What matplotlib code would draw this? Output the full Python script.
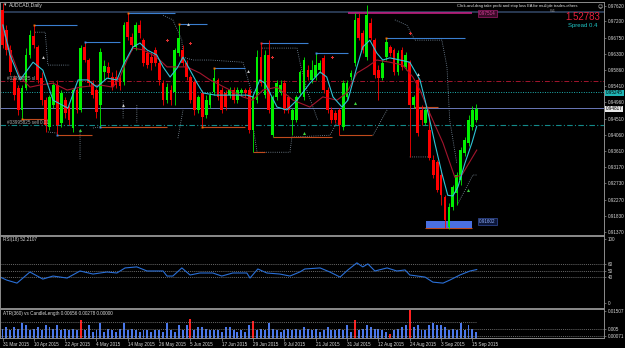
"""AUDCAD daily chart, MetaTrader style: candles + MAs, RSI(18), ATR vs candle length."""

import matplotlib
matplotlib.use("Agg")
import matplotlib.pyplot as plt  # noqa: E402
import numpy as np  # noqa: E402
from matplotlib.patches import Rectangle  # noqa: E402

plt.rcParams["font.family"] = ["Liberation Sans", "DejaVu Sans"]

W, H = 625, 348

# ---- candles (one per trading day, 31 Mar 2015 .. 16 Sep 2015) ----
OPEN = [.9751, .9696, .9640, .9563, .9535, .9474, .9535, .9626, .9679, .9649,
        .9563, .9502, .9427, .9488, .9544, .9438, .9502, .9483, .9424, .9530,
        .9474, .9649, .9613, .9549, .9530, .9488, .9580, .9593, .9566, .9566,
        .9563, .9552, .9718, .9676, .9649, .9709, .9668, .9632, .9621, .9640,
        .9604, .9549, .9502, .9530, .9524, .9632, .9640, .9604, .9566, .9552,
        .9474, .9521, .9460, .9488, .9524, .9557, .9530, .9521, .9516, .9530,
        .9502, .9521, .9530, .9530, .9419, .9502, .9621, .9516, .9626, .9405,
        .9510, .9524, .9549, .9510, .9447, .9447, .9521, .9510, .9585, .9557,
        .9566, .9585, .9618, .9530, .9474, .9466, .9474, .9427, .9510, .9566,
        .9604, .9729, .9687, .9621, .9715, .9668, .9585, .9563, .9621, .9649,
        .9640, .9580, .9640, .9593, .9607, .9488, .9557, .9474, .9438, .9419,
        .9336, .9331, .9295, .9234, .9151, .9206, .9245, .9281, .9356, .9383,
        .9427, .9447]
CLOSE = [.9654, .9640, .9580, .9516, .9474, .9535, .9626, .9682, .9654, .9557,
         .9502, .9433, .9510, .9544, .9433, .9521, .9466, .9447, .9530, .9474,
         .9646, .9613, .9549, .9516, .9469, .9635, .9596, .9577, .9538, .9544,
         .9541, .9709, .9676, .9654, .9709, .9687, .9604, .9599, .9604, .9604,
         .9557, .9502, .9538, .9502, .9640, .9674, .9604, .9566, .9502, .9474,
         .9510, .9455, .9502, .9516, .9563, .9510, .9474, .9483, .9530, .9502,
         .9530, .9530, .9521, .9419, .9510, .9621, .9549, .9626, .9474, .9510,
         .9549, .9544, .9474, .9474, .9474, .9510, .9580, .9613, .9566, .9585,
         .9599, .9604, .9530, .9474, .9447, .9447, .9433, .9549, .9549, .9577,
         .9723, .9674, .9640, .9737, .9674, .9571, .9563, .9604, .9662, .9632,
         .9580, .9632, .9593, .9626, .9488, .9510, .9411, .9447, .9474, .9342,
         .9295, .9253, .9239, .9170, .9206, .9261, .9295, .9364, .9391, .9447,
         .9474, .9477]
HIGH = [.9770, .9709, .9654, .9571, .9544, .9544, .9646, .9696, .9709, .9654,
        .9580, .9510, .9516, .9552, .9557, .9530, .9510, .9488, .9535, .9535,
        .9654, .9662, .9618, .9557, .9535, .9646, .9613, .9607, .9580, .9585,
        .9571, .9718, .9743, .9687, .9718, .9723, .9674, .9640, .9635, .9649,
        .9613, .9557, .9549, .9544, .9646, .9712, .9654, .9613, .9571, .9557,
        .9516, .9530, .9516, .9524, .9591, .9563, .9538, .9530, .9538, .9538,
        .9538, .9535, .9535, .9538, .9516, .9640, .9660, .9640, .9668, .9516,
        .9557, .9557, .9557, .9516, .9480, .9516, .9585, .9621, .9599, .9613,
        .9632, .9613, .9626, .9538, .9483, .9474, .9480, .9557, .9557, .9585,
        .9743, .9743, .9696, .9765, .9729, .9674, .9599, .9613, .9674, .9654,
        .9646, .9640, .9649, .9635, .9613, .9516, .9566, .9488, .9480, .9474,
        .9350, .9336, .9308, .9239, .9217, .9267, .9303, .9372, .9400, .9460,
        .9485, .9491]
LOW = [.9646, .9626, .9571, .9502, .9460, .9450, .9530, .9618, .9646, .9549,
       .9488, .9414, .9419, .9480, .9405, .9427, .9452, .9433, .9414, .9466,
       .9469, .9607, .9541, .9508, .9452, .9427, .9557, .9563, .9530, .9535,
       .9530, .9544, .9668, .9640, .9640, .9674, .9596, .9591, .9585, .9596,
       .9544, .9488, .9494, .9488, .9488, .9624, .9596, .9557, .9494, .9460,
       .9466, .9427, .9452, .9480, .9516, .9502, .9466, .9474, .9508, .9494,
       .9494, .9513, .9510, .9411, .9358, .9494, .9541, .9508, .9466, .9400,
       .9502, .9516, .9466, .9466, .9405, .9441, .9513, .9502, .9557, .9549,
       .9557, .9577, .9521, .9466, .9438, .9438, .9405, .9419, .9502, .9557,
       .9596, .9668, .9632, .9613, .9668, .9563, .9502, .9557, .9613, .9624,
       .9571, .9571, .9585, .9585, .9344, .9480, .9403, .9433, .9433, .9336,
       .9286, .9248, .9212, .9148, .9145, .9198, .9212, .9267, .9347, .9375,
       .9419, .9441]

# ---- moving averages (bar position, price) ----
FAST_X = [0.1, 1.9, 4.5, 7.8, 10.3, 12.9, 16.7, 19.3, 21.8, 24.1, 26.7, 29.2, 30.8,
          33.3, 35.1, 36.9, 39.4, 41.0, 42.8, 44.6, 46.1, 47.9, 49.7, 51.2, 54.3,
          58.1, 62.4, 63.9, 65.7, 67.0, 68.8, 70.1, 72.6, 75.2, 78.5, 81.1, 82.8,
          84.4, 86.7, 88.2, 90.5, 92.0, 93.8, 95.6, 97.1, 98.9, 101.5, 104.0,
          106.6, 107.9, 109.1, 110.4, 112.2, 113.7, 115.0, 116.3, 118.1, 119.9, 121.1]
FAST_Y = [.9710, .9627, .9558, .9607, .9585, .9502, .9480, .9558, .9558, .9538,
          .9563, .9558, .9599, .9649, .9660, .9641, .9627, .9594, .9566, .9591,
          .9621, .9585, .9549, .9522, .9516, .9516, .9516, .9511, .9558, .9549,
          .9511, .9483, .9475, .9502, .9549, .9580, .9566, .9511, .9483, .9502,
          .9594, .9649, .9668, .9632, .9613, .9619, .9613, .9607, .9558, .9502,
          .9447, .9383, .9300, .9239, .9237, .9262, .9328, .9385, .9430]
SLOW_X = [0.1, 1.9, 4.5, 7.0, 9.6, 12.9, 16.5, 19.8, 24.9, 28.2, 30.0, 31.8, 33.3,
          35.9, 38.4, 40.2, 42.0, 45.3, 47.1, 50.4, 53.0, 58.1, 61.4, 63.9, 66.5,
          70.1, 74.2, 78.5, 81.8, 85.4, 87.9, 90.5, 93.1, 95.6, 98.9, 102.2,
          104.8, 106.6, 109.1, 112.5, 115.5, 117.3, 121.1]
SLOW_Y = [.9696, .9640, .9566, .9538, .9544, .9549, .9530, .9538, .9544, .9538,
          .9566, .9613, .9646, .9641, .9627, .9613, .9594, .9594, .9594, .9577,
          .9558, .9530, .9511, .9502, .9530, .9538, .9502, .9483, .9511, .9502,
          .9522, .9577, .9594, .9613, .9607, .9599, .9566, .9530, .9466, .9383,
          .9289, .9295, .9364]

# ---- horizontal levels / order lines ----
LEVEL_SLATE = 0.9746
LEVEL_SL = 0.9555
LEVEL_ASK = 0.95245
LEVEL_BID = 0.94817
LEVEL_SELL = 0.9433
MAGENTA_LINE = (88.2, 119.9, 0.9742)

# resistance (blue) and support (orange) segments: start bar, end bar, price
RES_START = [8, 21, 32, 45, 54, 66, 80, 98]
RES_END = [19.0, 30.0, 44.0, 52.2, 61.9, 78.0, 88.2, 118.1]
RES_PRICE = [.9709, .9662, .9743, .9712, .9591, .9660, .9632, .9674]
RES_MARK = ["#ff6a00", "#3d8be0", "#ff6a00", "#ff6a00", "#ff6a00", "#ff3030", "#3d8be0", "#ff6a00"]
SUP_START = [5, 14, 25, 51, 64, 69, 86, 105, 108]
SUP_END = [11.4, 22.9, 42.0, 61.9, 67.0, 84.1, 94.3, 111.2, 119.9]
SUP_PRICE = [.9450, .9405, .9427, .9427, .9358, .9400, .9405, .9483, .9148]
SUP_MARK = ["#ff6a00", "#3d8be0", "#3d8be0", "#ff6a00", None, None, None, None, None]

# stepped dotted stop lines, upper and lower (NaN breaks segments)
UPPER_X = [8.3, 10.9, 11.6, 17.2, np.nan,
           41.0, 43.5, 45.8, 46.1, 48.6, 53.0, 61.4, 63.7, np.nan,
           66.3, 75.2, 76.0, 77.7, 80.5, np.nan,
           100.2, 103.3, 105.3, 112.2, 113.5, 114.2, 116.0]
UPPER_Y = [.9690, .9690, .9599, .9599, np.nan,
           .9737, .9724, .9668, .9621, .9613, .9613, .9607, .9522, np.nan,
           .9646, .9646, .9605, .9530, .9447, np.nan,
           .9724, .9709, .9668, .9668, .9594, .9447, .9328]
LOWER_X = [11.6, 13.9, np.nan, 19.8, 19.8, np.nan, 23.1, 24.9, np.nan,
           30.8, 30.8, np.nan, 34.3, 34.3, np.nan, 44.8, 46.1, np.nan,
           64.0, 65.0, 73.4, 73.9, 83.6, 85.4, np.nan, 94.6, 98.2, np.nan,
           104.0, 108.6, np.nan, 116.3, 118.1, 120.1, 121.1]
LOWER_Y = [.9414, .9411, np.nan, .9419, .9336, np.nan, .9425, .9428, np.nan,
           .9502, .9452, np.nan, .9488, .9439, np.nan, .9397, .9475, np.nan,
           .9428, .9358, .9358, .9400, .9405, .9439, np.nan, .9405, .9475, np.nan,
           .9345, .9345, np.nan, .9217, .9253, .9295, .9295]

# signal arrows
UP_X = [19.8, 77.0, 90.0, 118.8]
UP_Y = [.9419, .9411, .9494, .9253]
DN_X = [42.0, 47.9, 68.8, 84.1, 104.0]
DN_Y = [.9668, .9660, .9621, .9621, .9688]
WH_X = [10.3, 30.8, 47.3, 62.7, 106.1]
WH_Y = [.9621, .9488, .9712, .9583, .9574]

BOX_BARS = (108.1, 119.9)
BOX_PRICES = (0.9148, 0.9168)

PRICE_TICKS = [0.97620, 0.97200, 0.96750, 0.96300, 0.95860, 0.95410, 0.94960,
               0.94510, 0.94060, 0.93610, 0.93170, 0.92730, 0.92270, 0.91830, 0.91370]

# ---- RSI(18) ----
RSI_X = [-0.6, 1.1, 3.7, 7.0, 10.3, 12.9, 16.5, 19.8, 23.1, 26.7, 29.2, 31.3, 34.3,
         36.9, 41.0, 42.0, 43.5, 45.8, 47.9, 50.4, 53.7, 56.0, 58.8, 62.4, 63.2,
         65.2, 67.5, 70.8, 73.4, 75.9, 77.2, 81.1, 83.6, 86.2, 88.2, 90.5, 92.0,
         93.3, 95.1, 98.2, 100.7, 102.8, 104.0, 107.9, 109.9, 112.5, 114.2,
         116.8, 119.4, 121.1]
RSI_Y = [40.6, 35.9, 31.3, 48.4, 37.5, 42.2, 39.1, 50.0, 45.3, 48.4, 46.9, 54.7,
         56.3, 50.0, 50.0, 42.2, 42.2, 54.7, 43.8, 46.9, 46.9, 42.2, 46.9, 46.9,
         39.1, 53.1, 46.9, 45.3, 42.2, 48.4, 53.1, 54.7, 48.4, 40.6, 51.6, 62.5,
         56.3, 60.9, 50.0, 54.7, 50.0, 51.6, 43.8, 40.6, 32.8, 31.3, 35.9, 43.8,
         50.0, 52.2]
RSI_LEVELS = [60, 50, 40]

# ---- ATR vs candle length histogram ----
ATR = [.0051, .0061, .0042, .0061, .0051, .0080, .0070, .0042, .0051, .0061,
       .0042, .0070, .0061, .0051, .0070, .0042, .0051, .0042, .0051, .0042,
       .0099, .0042, .0070, .0032, .0042, .0084, .0032, .0051, .0042, .0032,
       .0051, .0084, .0042, .0051, .0042, .0032, .0045, .0042, .0032, .0042,
       .0042, .0032, .0080, .0042, .0032, .0070, .0042, .0070, .0103, .0042,
       .0061, .0061, .0051, .0042, .0042, .0042, .0032, .0061, .0061, .0042,
       .0032, .0042, .0032, .0070, .0095, .0042, .0051, .0042, .0084, .0051,
       .0042, .0032, .0045, .0051, .0042, .0051, .0042, .0057, .0051,
       .0042, .0051, .0032, .0042, .0057, .0042, .0042, .0051, .0042, .0070,
       .0032, .0099, .0042, .0051, .0070, .0061, .0051, .0051, .0042, .0032,
       .0019, .0042, .0051, .0061, .0070, .0156, .0061, .0070, .0042, .0042,
       .0070, .0080, .0070, .0070, .0061, .0042, .0051, .0042, .0084, .0042,
       .0070, .0051, .0032]
ATR_RED = [20, 48, 64, 90, 99, 104]
ATR_LEVELS = [0.005, 0.00071]
ATR_AVG = 0.0089

DATE_BARS = [0, 8, 16, 24, 32, 40, 48, 56, 64, 72, 80, 88, 96, 104, 112, 120]
DATE_LABELS = ["31 Mar 2015", "10 Apr 2015", "22 Apr 2015", "4 May 2015", "14 May 2015",
               "26 May 2015", "5 Jun 2015", "17 Jun 2015", "29 Jun 2015", "9 Jul 2015",
               "21 Jul 2015", "31 Jul 2015", "12 Aug 2015", "24 Aug 2015", "3 Sep 2015",
               "15 Sep 2015"]

GRID = "#8c8c8c"
TXT = "#d8d8d8"
FS = 3.3
DOTS = (0, (1, 1.6))


def fx(x):
    return x / W


def fy(y):
    return 1 - y / H


def px_axes(fig, x0, y0, x1, y1):
    ax = fig.add_axes([fx(x0), fy(y1), (x1 - x0) / W, (y1 - y0) / H])
    ax.set_facecolor("black")
    for s in ax.spines.values():
        s.set_color(GRID)
        s.set_linewidth(0.7)
    ax.set_xlim(-0.64, 153.6)
    ax.yaxis.tick_right()
    ax.tick_params(axis="y", colors=GRID, labelcolor=TXT, labelsize=FS,
                   length=1.5, width=0.5, pad=1)
    ax.tick_params(axis="x", bottom=False, labelbottom=False)
    return ax


fig = plt.figure(figsize=(W / 100, H / 100), dpi=100, facecolor="black")

# ---------------- main price window ----------------
ax = px_axes(fig, 0, 2, 604, 234.5)
ax.set_ylim(0.91305, 0.97735)
ax.set_yticks(PRICE_TICKS)
ax.set_yticklabels([f"{p:.5f}" for p in PRICE_TICKS])

ax.axhline(LEVEL_SLATE, color="#2c3e58", lw=1.3, zorder=1)
ax.axhline(LEVEL_SL, color="#a3152d", lw=0.7, ls=(0, (5, 2, 1, 2)), zorder=1)
ax.axhline(LEVEL_ASK, color="#1fb0b0", lw=0.7, ls=(0, (1, 1.5)), zorder=1)
ax.axhline(LEVEL_BID, color="#6b78b8", lw=0.7, zorder=1)
ax.axhline(LEVEL_SELL, color="#138a8a", lw=0.8, ls=(0, (5, 2, 1, 2)), zorder=1)
ax.hlines(MAGENTA_LINE[2], MAGENTA_LINE[0], MAGENTA_LINE[1], color="#d0208a", lw=1.1, zorder=2)

ax.plot(UPPER_X, UPPER_Y, color="#8296aa", lw=0.6, ls=DOTS, zorder=2)
ax.plot(LOWER_X, LOWER_Y, color="#8a9aa8", lw=0.6, ls=DOTS, zorder=2)

ax.hlines(RES_PRICE, RES_START, RES_END, color="#3a7fd0", lw=0.8, zorder=2)
ax.hlines(SUP_PRICE, SUP_START, SUP_END, color="#c04a1c", lw=0.8, zorder=2)
for x, p, c in zip(RES_START, RES_PRICE, RES_MARK):
    ax.plot(x, p, "s", ms=1.4, color=c, mew=0, zorder=5)
for x, p, c in zip(SUP_START, SUP_PRICE, SUP_MARK):
    if c:
        ax.plot(x, p, "s", ms=1.4, color=c, mew=0, zorder=5)

ax.add_patch(Rectangle((BOX_BARS[0], BOX_PRICES[0]), BOX_BARS[1] - BOX_BARS[0],
                       BOX_PRICES[1] - BOX_PRICES[0], fc="#4a6fe0", ec="none", zorder=3))

o, c, h, l = (np.array(v) for v in (OPEN, CLOSE, HIGH, LOW))
idx = np.arange(len(o))
col = np.where(c >= o, "#00f000", "#ff0000")
ax.vlines(idx, l, h, colors=col, lw=0.6, zorder=4)
ax.bar(idx, np.maximum(np.abs(c - o), 0.00012), bottom=np.minimum(o, c), width=0.7,
       color=col, linewidth=0, zorder=4)

ax.plot(SLOW_X, SLOW_Y, color="#a3152d", lw=0.8, zorder=6)
ax.plot(FAST_X, FAST_Y, color="#2ec4d6", lw=0.8, zorder=6)

ax.plot(UP_X, UP_Y, "^", ms=2.2, color="#3cd23c", mew=0, zorder=7)
ax.plot(DN_X, DN_Y, "P", ms=2.2, color="#e03030", mew=0, zorder=7)
ax.plot(WH_X, WH_Y, "^", ms=2.0, color="#d8d8d8", mew=0, zorder=7)

# texts of the price window
fig.text(fx(4), fy(5), "\u25BE", color=TXT, fontsize=3.5, va="center", ha="left")
fig.text(fx(9), fy(5), "AUDCAD,Daily", color=TXT, fontsize=3.6, va="center")
fig.text(fx(457), fy(5.5), "Click-and-drag take profit and stop loss EA for multiple trades-others",
         color="#e8e8e8", fontsize=2.9, va="center")
fig.text(fx(598), fy(5.5), "\u263A", color="#e8e8e8", fontsize=3.6, va="center",
         family=["DejaVu Sans"])
fig.text(fx(550), fy(10.5), "W1", color="#9a9a9a", fontsize=2.9, va="center")
fig.text(fx(600), fy(17), "1.52783", color="#e8203c", fontsize=7, va="center", ha="right")
fig.text(fx(597), fy(25.5), "Spread 0.4", color="#1fc8c8", fontsize=4.3, va="center", ha="right")
fig.text(fx(7), fy(79), "#03995825 sl", color="#b0b0b0", fontsize=FS, va="center")
fig.text(fx(7), fy(122), "#03995825 sell 0.01", color="#b0b0b0", fontsize=FS, va="center")
fig.text(fx(479), fy(13.5), "0.97514", color="#e040a0", fontsize=FS, va="center",
         bbox=dict(boxstyle="square,pad=0.2", fc="#3a0c28", ec="#c02080", lw=0.4))
fig.text(fx(479), fy(221.5), "0.91602", color="#8fb0ff", fontsize=FS, va="center",
         bbox=dict(boxstyle="square,pad=0.2", fc="#0c1638", ec="#4060c0", lw=0.4))
fig.text(fx(606), fy(93), "0.95245", color="black", fontsize=FS, va="center",
         bbox=dict(boxstyle="square,pad=0.15", fc="#1fb5b5", ec="none"))
fig.text(fx(606), fy(109), "0.94817", color="black", fontsize=FS, va="center",
         bbox=dict(boxstyle="square,pad=0.15", fc="#e8e8e8", ec="none"))

# ---------------- RSI window ----------------
ax_rsi = px_axes(fig, 0, 235.5, 604, 307.5)
ax_rsi.set_ylim(-6.3, 104.7)
ax_rsi.set_yticks([100] + RSI_LEVELS + [0])
ax_rsi.set_yticklabels(["100"] + [str(v) for v in RSI_LEVELS] + ["0"])
for v in RSI_LEVELS:
    ax_rsi.axhline(v, color=GRID, lw=0.5, ls=(0, (1.5, 1.5)))
ax_rsi.plot(RSI_X, RSI_Y, color="#2a6fd6", lw=0.8)
fig.text(fx(3), fy(240), "RSI(18) 52.2107", color=TXT, fontsize=FS, va="center")

# ---------------- ATR window ----------------
ax_atr = px_axes(fig, 0, 308.5, 604, 338)
ax_atr.set_ylim(-0.00014, 0.01622)
ax_atr.set_yticks([0.01507, 0.005, 0.00071])
ax_atr.set_yticklabels(["0.01507", "0.005", "0.00071"])
for v in ATR_LEVELS:
    ax_atr.axhline(v, color=GRID, lw=0.5, ls=(0, (1.5, 1.5)))
ax_atr.hlines(ATR_AVG, -0.64, len(ATR) - 1, color=GRID, lw=0.5, ls=(0, (1.5, 1.5)))
atr_col = ["#ff2020" if i in ATR_RED else "#4a78ec" for i in range(len(ATR))]
ax_atr.bar(np.arange(len(ATR)), ATR, width=0.5, color=atr_col, linewidth=0)
fig.text(fx(3), fy(313), "ATR(360) vs CandleLength 0.00656 0.00278 0.00000",
         color=TXT, fontsize=FS, va="center")

ax_atr.set_xticks(DATE_BARS)
ax_atr.set_xticklabels(DATE_LABELS, ha="left")
ax_atr.tick_params(axis="x", bottom=True, labelbottom=True, colors=GRID, labelcolor=TXT,
                   labelsize=FS, length=2, width=0.5, pad=1)

fig.savefig("out.png", dpi=100, facecolor="black")
plt.close(fig)
